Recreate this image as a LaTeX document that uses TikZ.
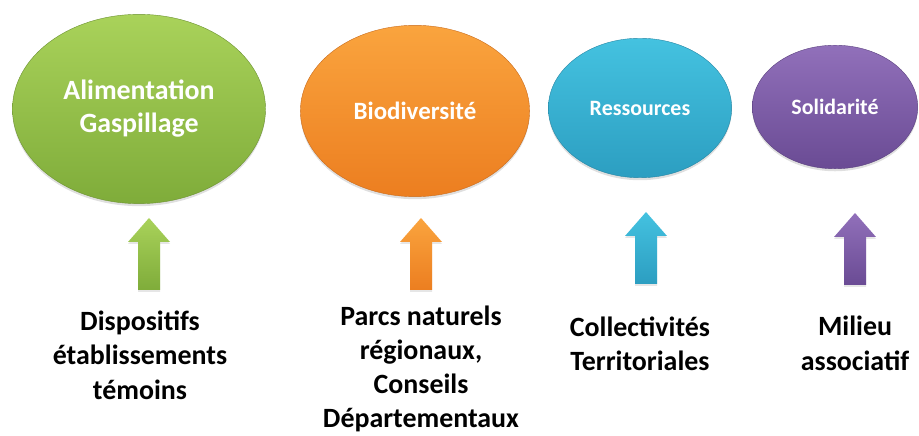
\documentclass[tikz,border=0pt]{standalone}
\usepackage{fontspec}
\setmainfont{Carlito}
\usetikzlibrary{shapes.geometric,shadows}

\definecolor{haut-vert}{HTML}{A9D25A}
\definecolor{bas-vert}{HTML}{7FAC3A}
\definecolor{haut-orange}{HTML}{FAA43E}
\definecolor{bas-orange}{HTML}{EC7E20}
\definecolor{haut-bleu}{HTML}{44C2E0}
\definecolor{bas-bleu}{HTML}{2C9EC1}
\definecolor{haut-violet}{HTML}{9170BA}
\definecolor{bas-violet}{HTML}{6A4B94}

\begin{document}
\begin{tikzpicture}[x=1bp,y=1bp,
  theme/.style={ellipse, inner sep=0pt, text=white, align=center,
    top color=haut-#1, bottom color=bas-#1, draw=bas-#1!85!black, line width=0.4bp,
    drop shadow={opacity=0.25, shadow xshift=0bp, shadow yshift=-2.5bp},
    font=\bfseries\fontsize{22}{33}\selectfont},
  acteur/.style={align=center, text=black,
    font=\bfseries\fontsize{28}{34.5}\selectfont}
]
  \useasboundingbox (0,0) rectangle (919,436);

  \node[theme=vert, minimum width=254, minimum height=190,
        font=\bfseries\fontsize{28}{33}\selectfont]
    (alim) at (139,327) {Alimentation\\Gaspillage};
  \node[theme=orange, minimum width=230, minimum height=172,
        font=\bfseries\fontsize{25}{33}\selectfont] (bio) at (415,325) {Biodiversité};
  \node[theme=bleu, minimum width=184, minimum height=140] (res) at (640,328) {Ressources};
  \node[theme=violet, minimum width=166, minimum height=124] (sol) at (835,329) {Solidarité};

  % fleches
  \foreach \x/\t/\c in {149/218/vert, 421/218/orange, 646/224/bleu, 855/223/violet}
    \shade[top color=haut-\c, bottom color=bas-\c,
           drop shadow={opacity=0.2, shadow xshift=0bp, shadow yshift=-2bp}]
      (\x,\t) -- ++(21,-24) -- ++(-10,0) -- ++(0,-48) -- ++(-22,0)
      -- ++(0,48) -- ++(-10,0) -- cycle;

  \node[acteur] (dispo) at (140,81) {Dispositifs\\établissements\\témoins};
  \node[acteur, font=\bfseries\fontsize{28}{34}\selectfont]
    (parcs) at (421,67) {Parcs naturels\\régionaux,\\Conseils\\Départementaux};
  \node[acteur] (coll) at (640,92.5) {Collectivités\\Territoriales};
  \node[acteur] (asso) at (855,92.5) {Milieu\\associatif};
\end{tikzpicture}
\end{document}
